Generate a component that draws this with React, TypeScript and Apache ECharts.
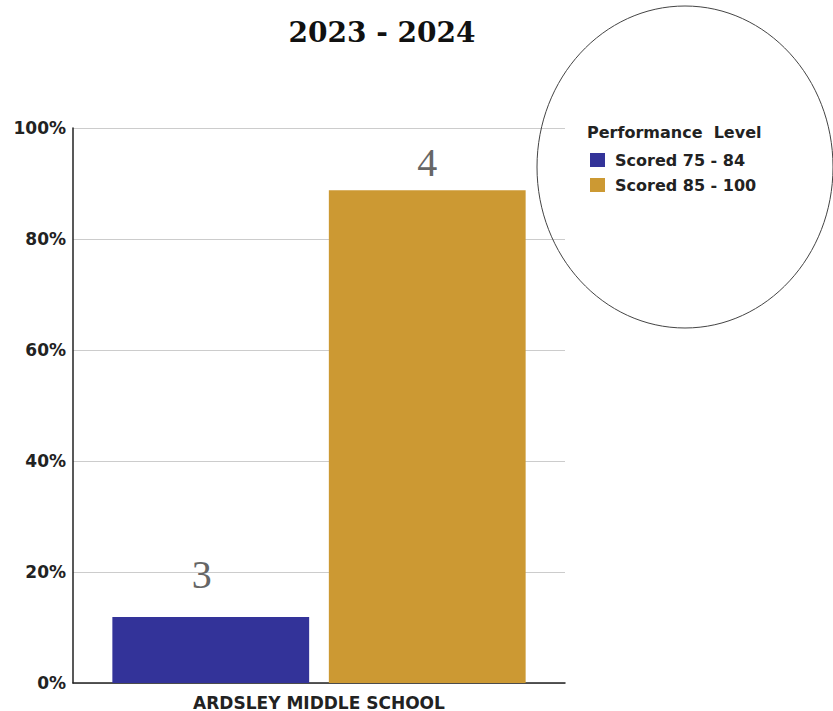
import React, { useEffect, useRef } from "react";
import * as echarts from "echarts";

const chartTitle = "2023 - 2024";
const categories = ["ARDSLEY MIDDLE SCHOOL"];
const seriesNames = ["Scored 75 - 84", "Scored 85 - 100"];
const seriesValues = [[11.9], [88.8]];
const levelLabels = ["3", "4"];
const seriesColors = ["#333399", "#CC9933"];
const legendTitle = "Performance  Level";
const yTicks = [0, 20, 40, 60, 80, 100];

export default function App() {
  const ref = useRef<HTMLDivElement>(null);
  useEffect(() => {
    if (!ref.current) return;
    const chart = echarts.init(ref.current, null, { renderer: "svg" });
    const labelDistances = [22, 8];
    const labelOffsets = [[-9, 0], [0, 0]];
    chart.setOption({
      animation: false,
      backgroundColor: "#ffffff",
      grid: { left: 73, right: 268, top: 128, bottom: 28, containLabel: false },
      xAxis: {
        type: "category",
        data: categories,
        axisLine: { show: true, lineStyle: { color: "#222", width: 1.5 } },
        axisTick: { show: false },
        axisLabel: {
          margin: 11,
          fontFamily: "DejaVu Sans",
          fontWeight: "bold",
          fontSize: 17,
          color: "#222",
        },
      },
      yAxis: {
        type: "value",
        min: yTicks[0],
        max: yTicks[yTicks.length - 1],
        interval: yTicks[1] - yTicks[0],
        axisLine: { show: true, lineStyle: { color: "#222", width: 1.5 } },
        axisTick: { show: false },
        splitLine: { lineStyle: { color: "#cccccc", width: 1 } },
        axisLabel: {
          margin: 7,
          formatter: "{value}%",
          fontFamily: "DejaVu Sans",
          fontWeight: "bold",
          fontSize: 17,
          color: "#222",
        },
      },
      legend: {
        orient: "vertical",
        left: 590,
        top: 152,
        padding: 0,
        itemGap: 9,
        itemWidth: 15,
        itemHeight: 14,
        icon: "rect",
        data: seriesNames,
        textStyle: {
          fontFamily: "DejaVu Sans",
          fontWeight: "bold",
          fontSize: 16,
          color: "#222",
          padding: [0, 0, 0, 5],
        },
      },
      graphic: [
        {
          type: "ellipse",
          shape: { cx: 685, cy: 167, rx: 148, ry: 161 },
          style: { fill: "none", stroke: "#444", lineWidth: 1 },
          z: 1,
        },
        {
          type: "text",
          x: 382,
          y: 32,
          style: {
            text: chartTitle,
            fontFamily: "DejaVu Serif",
            fontWeight: "bold",
            fontSize: 28,
            fill: "#111",
            textAlign: "center",
            textVerticalAlign: "middle",
          },
        },
        {
          type: "text",
          x: 587,
          y: 132,
          style: {
            text: legendTitle,
            fontFamily: "DejaVu Sans",
            fontWeight: "bold",
            fontSize: 16,
            fill: "#222",
            textAlign: "left",
            textVerticalAlign: "middle",
          },
        },
      ],
      series: seriesNames.map((name, i) => ({
        name,
        type: "bar",
        data: seriesValues[i],
        barGap: "10%",
        barCategoryGap: "16%",
        itemStyle: { color: seriesColors[i] },
        label: {
          show: true,
          position: "top",
          distance: labelDistances[i],
          offset: labelOffsets[i],
          formatter: () => levelLabels[i],
          fontFamily: "Liberation Serif",
          fontSize: 40,
          color: "#666",
        },
      })),
    });
    return () => chart.dispose();
  }, []);
  return (
    <div
      ref={ref}
      style={{ position: "fixed", left: 0, top: 0, width: 833, height: 711 }}
    />
  );
}
